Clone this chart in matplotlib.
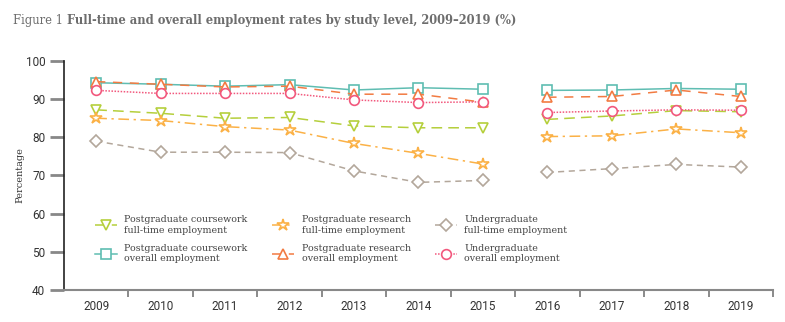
import numpy as np
import matplotlib.pyplot as plt
from matplotlib.ticker import FixedLocator, NullFormatter

years = ['2009', '2010', '2011', '2012', '2013', '2014', '2015', '2016', '2017', '2018', '2019']

pg_cw_ft = [87.2, 86.3, 85.0, 85.2, 83.0, 82.5, 82.5, 84.7, 85.6, 87.0, 86.7]
pg_cw_all = [94.3, 93.9, 93.4, 93.8, 92.4, 93.0, 92.6, 92.3, 92.4, 92.8, 92.6]
pg_rs_ft = [85.0, 84.4, 82.8, 81.9, 78.4, 75.8, 73.0, 80.2, 80.4, 82.2, 81.2]
pg_rs_all = [94.6, 93.9, 93.2, 93.4, 91.3, 91.3, 89.2, 90.5, 90.7, 92.4, 90.7]
ug_ft = [79.0, 76.1, 76.1, 76.0, 71.2, 68.2, 68.7, 70.8, 71.8, 72.9, 72.2]
ug_all = [92.3, 91.5, 91.5, 91.5, 89.8, 89.1, 89.3, 86.5, 86.9, 87.2, 87.1]

series = [
    (pg_cw_ft, 'Postgraduate coursework\nfull-time employment', '#b5cf3c', 'v', (0, (7, 4))),
    (pg_cw_all, 'Postgraduate coursework\noverall employment', '#5fbdb2', 's', '-'),
    (pg_rs_ft, 'Postgraduate research\nfull-time employment', '#fbb146', '*', (0, (7, 3, 1.5, 3))),
    (pg_rs_all, 'Postgraduate research\noverall employment', '#f27b42', '^', (0, (6, 5))),
    (ug_ft, 'Undergraduate\nfull-time employment', '#b3a79b', 'D', (0, (4, 3))),
    (ug_all, 'Undergraduate\noverall employment', '#f2587d', 'o', (0, (1, 1))),
]

fig = plt.figure(figsize=(7.85, 3.22), dpi=100)
ax = fig.add_axes([0.0815, 0.0994, 0.9032, 0.7112])

x = np.arange(len(years))
gap = 7  # survey break between 2015 and 2016
handles = []
for vals, label, color, marker, ls in series:
    v = np.array(vals)
    ms = 9 if marker == '*' else 7
    if marker == 'D':
        ms = 6.5
    kw = dict(color=color, linestyle=ls, linewidth=1.1, marker=marker, markersize=ms,
              markerfacecolor='white', markeredgecolor=color, markeredgewidth=1.2)
    h, = ax.plot(x[:gap], v[:gap], label=label, **kw)
    ax.plot(x[gap:], v[gap:], **kw)
    handles.append(h)

ax.set_xlim(-0.5, 10.5)
ax.set_ylim(40, 100)
ax.set_yticks([40, 50, 60, 70, 80, 90, 100])
ax.set_xticks(x)
ax.set_xticklabels(years)
ax.xaxis.set_minor_locator(FixedLocator(np.arange(0.5, 11, 1)))
ax.xaxis.set_minor_formatter(NullFormatter())
ax.tick_params(axis='x', which='major', length=0, labelsize=8.5, pad=7, colors='#333333')
ax.tick_params(axis='x', which='minor', length=5, width=1.2, color='#777777')
ax.tick_params(axis='y', length=10, width=2, color='#888888', labelsize=8.5, labelcolor='#333333')
for lab in ax.get_xticklabels() + ax.get_yticklabels():
    lab.set_family('Roboto')

ax.spines['top'].set_visible(False)
ax.spines['right'].set_visible(False)
ax.spines['left'].set_color('#222222')
ax.spines['left'].set_linewidth(1.2)
ax.spines['bottom'].set_color('#888888')
ax.spines['bottom'].set_linewidth(1.5)

ax.set_ylabel('Percentage', fontsize=7, family='DejaVu Serif', color='#333333', labelpad=1)

leg = ax.legend(handles=handles, ncol=3, loc='lower left', bbox_to_anchor=(0.032, 0.08),
                frameon=False, prop={'family': 'DejaVu Serif', 'size': 6.8},
                handlelength=2.3, columnspacing=2.6, labelspacing=0.95, handletextpad=0.8)
for t in leg.get_texts():
    t.set_color('#444444')

t1 = fig.text(0.017, 0.935, 'Figure 1 ', fontsize=8.3, family='DejaVu Serif', color='#6d6d6d',
              va='center', ha='left')
fig.canvas.draw()
bb = t1.get_window_extent().transformed(fig.transFigure.inverted())
fig.text(bb.x1, 0.935, 'Full-time and overall employment rates by study level, 2009\u20132019 (%)',
         fontsize=8.3, family='DejaVu Serif', weight='bold', color='#6d6d6d', va='center', ha='left')

fig.savefig('out.png', dpi=100)
